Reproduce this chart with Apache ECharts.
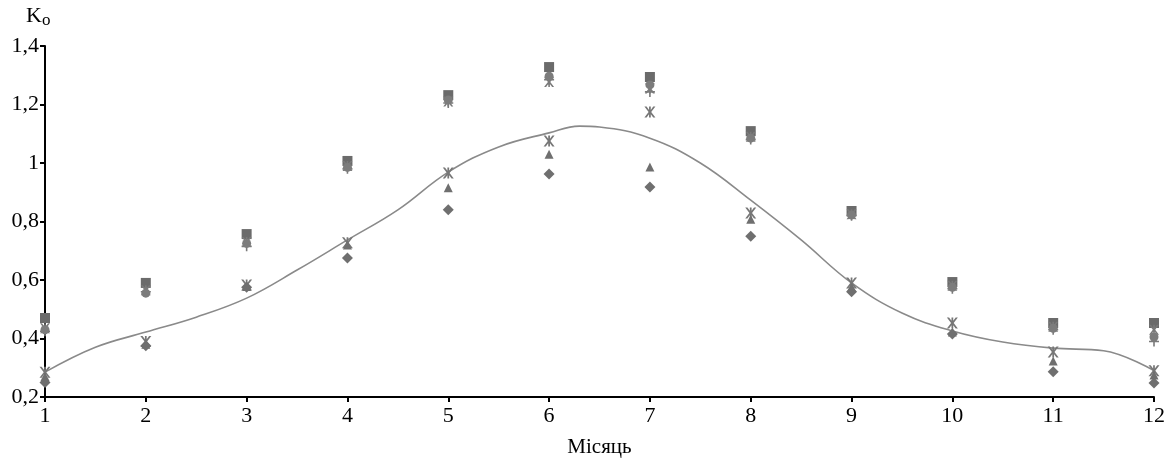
<!DOCTYPE html>
<html>
<head>
<meta charset="utf-8">
<script src="https://cdn.jsdelivr.net/npm/echarts@6/dist/echarts.min.js"></script>
<style>
    html, body { margin: 0; padding: 0; background: #fff; }
    #chart { width: 1173px; height: 459px; }
</style>
</head>
<body>
<div id="chart"></div>
<script>
var months = [1, 2, 3, 4, 5, 6, 7, 8, 9, 10, 11, 12];
var yTicks = [0.2, 0.4, 0.6, 0.8, 1, 1.2, 1.4];

// значения по точкам
var diamondVals = [0.25, 0.375, 0.575, 0.675, 0.84, 0.962, 0.918, 0.75, 0.56, 0.415, 0.286, 0.248];
var squareVals = [0.47, 0.59, 0.757, 1.007, 1.232, 1.328, 1.294, 1.109, 0.836, 0.593, 0.453, 0.453];
var triangleVals = [0.27, 0.38, 0.578, 0.72, 0.915, 1.03, 0.986, 0.808, 0.576, 0.422, 0.323, 0.275];
var crossVals = [0.285, 0.39, 0.583, 0.727, 0.966, 1.075, 1.174, 0.829, 0.59, 0.453, 0.354, 0.29];
var starVals = [0.435, 0.565, 0.73, 0.99, 1.21, 1.277, 1.255, 1.09, 0.825, 0.58, 0.44, 0.43];
var circleVals = [0.43, 0.555, 0.725, 0.985, 1.215, 1.297, 1.267, 1.085, 0.822, 0.575, 0.435, 0.405];
var plusVals = [0.425, 0.56, 0.715, 0.98, 1.205, 1.285, 1.243, 1.08, 0.82, 0.57, 0.43, 0.39];
// линия тренда
var trendX = [1, 1.5, 2, 2.5, 3, 3.5, 4, 4.5, 5, 5.5, 6, 6.3, 6.5, 7, 7.5, 8, 8.5, 9, 9.5, 10, 10.5, 11, 11.5, 12];
var trendVals = [0.285, 0.37, 0.422, 0.473, 0.538, 0.634, 0.737, 0.84, 0.969, 1.055, 1.103, 1.126, 1.123, 1.085, 1.0, 0.873, 0.737, 0.59, 0.487, 0.426, 0.388, 0.367, 0.358, 0.29];

var asterPath = 'path://M0,0 L2,0 L4.2,3 L4.2,0 L5.8,0 L5.8,3 L8,0 L10,0 L6.2,5 L10,10 L8,10 L5.8,7 L5.8,10 L4.2,10 L4.2,7 L2,10 L0,10 L3.8,5 Z';
var plusPath = 'path://M4.2,0 L5.8,0 L5.8,4.2 L10,4.2 L10,5.8 L5.8,5.8 L5.8,10 L4.2,10 L4.2,5.8 L0,5.8 L0,4.2 L4.2,4.2 Z';

function pairs(xs, vals){
    var out = [];
    for (var i = 0; i < xs.length; i++) {
        out.push([xs[i], vals[i]]);
    }
    return out;
}

function scatter(name, vals, symbol, size, color){
    return {
        name: name,
        type: 'scatter',
        data: pairs(months, vals),
        symbol: symbol,
        symbolSize: size,
        itemStyle: { color: color, opacity: 1 },
        z: 3
    };
}

var chart = echarts.init(document.getElementById('chart'));
var option = {
    animation: false,
    backgroundColor: '#fff',
    textStyle: { fontFamily: 'Liberation Serif' },
    grid: { left: 45, right: 19, top: 46, bottom: 62, outerBoundsMode: 'none', containLabel: false },
    title: {
        text: '{k|K}{o|o}',
        left: 21,
        top: -2,
        textStyle: {
            rich: {
                k: { fontFamily: 'Liberation Serif', fontSize: 22, color: '#000', fontWeight: 'normal' },
                o: { fontFamily: 'Liberation Serif', fontSize: 17, color: '#000', fontWeight: 'normal', verticalAlign: 'bottom', padding: [9, 0, 0, 0] }
            }
        }
    },
    xAxis: {
        type: 'value',
        min: 1,
        max: 12,
        interval: 1,
        name: 'Місяць',
        nameLocation: 'middle',
        nameGap: 40,
        nameTextStyle: { fontFamily: 'Liberation Serif', fontSize: 21, color: '#000' },
        axisLine: { lineStyle: { color: '#000', width: 2 } },
        axisTick: { show: true, length: 5, lineStyle: { color: '#000', width: 2 } },
        axisLabel: { fontFamily: 'Liberation Serif', fontSize: 22, color: '#000', margin: 8 },
        splitLine: { show: false }
    },
    yAxis: {
        type: 'value',
        min: 0.2,
        max: 1.4,
        interval: 0.2,
        axisLine: { show: true, lineStyle: { color: '#000', width: 2 } },
        axisTick: { show: true, length: 5, lineStyle: { color: '#000', width: 2 } },
        axisLabel: {
            fontFamily: 'Liberation Serif',
            fontSize: 22,
            color: '#000',
            margin: 6,
            formatter: function (v) {
                var t = parseFloat(v.toFixed(1));
                if (yTicks.indexOf(t) < 0) return '';
                return String(t).replace('.', ',');
            }
        },
        splitLine: { show: false }
    },
    series: [
        {
            name: 'trend',
            type: 'line',
            data: pairs(trendX, trendVals),
            smooth: 0.4,
            showSymbol: false,
            lineStyle: { color: '#8a8a8a', width: 1.6 },
            z: 2
        },
        scatter('square', squareVals, 'rect', 10, '#6b6b6b'),
        scatter('plus', plusVals, plusPath, 10, '#7a7a7a'),
        scatter('star', starVals, asterPath, 10, '#7a7a7a'),
        scatter('circle', circleVals, 'circle', 9, '#7c7c7c'),
        scatter('cross', crossVals, asterPath, 11, '#777'),
        scatter('triangle', triangleVals, 'triangle', 9, '#6f6f6f'),
        scatter('diamond', diamondVals, 'diamond', 11, '#6f6f6f')
    ]
};
chart.setOption(option);
</script>
</body>
</html>
